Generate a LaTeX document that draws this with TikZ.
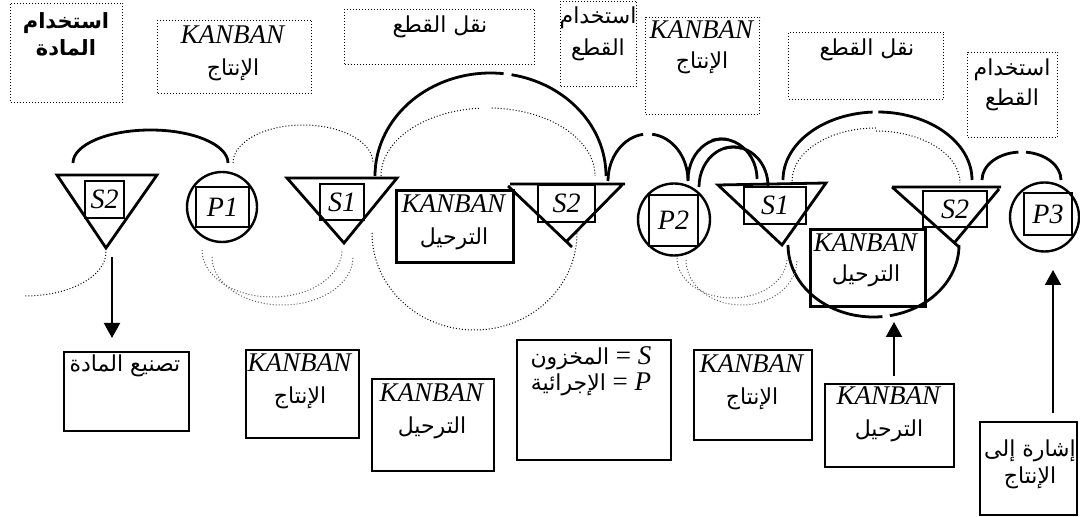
\documentclass[tikz,border=0pt]{standalone}
\usepackage{fontspec}
\setmainfont{Liberation Serif}
\newfontfamily\arabicfont[Script=Arabic]{DejaVu Sans}
\TeXXeTstate=1
\usetikzlibrary{arrows.meta}

% Arabic run, right to left
\newcommand{\artext}[2][11]{{\arabicfont\fontsize{#1}{16}\selectfont\beginR #2\endR}}
\newcommand{\kb}{\textit{KANBAN}}

\begin{document}
\begin{tikzpicture}[x=0.5pt, y=-0.5pt,
    font=\fontsize{13.5}{16}\selectfont,
    dotbox/.style={draw, densely dotted, line width=0.5pt, anchor=north west, inner sep=0},
    card/.style={draw, line width=1pt, anchor=north west, inner sep=0},
    midcard/.style={draw, line width=1.3pt, anchor=north west, inner sep=0},
    tag/.style={draw, line width=1.3pt, inner sep=0, font=\fontsize{14}{16}\selectfont\itshape},
    ring/.style={draw, circle, line width=1.2pt, inner sep=0},
    txt/.style={align=center, inner sep=0},
    bin/.style={line width=1.4pt},
    loop/.style={line width=1.4pt},
    trail/.style={densely dotted, line width=0.5pt},
    arr/.style={line width=1pt, -{Triangle[width=8pt,length=7.5pt]}}
]
\useasboundingbox (0,0) rectangle (1080,517);

% dotted boxes along the top
\node[dotbox, minimum width=56pt, minimum height=49.5pt] (matuse) at (10,3) {};
\node[dotbox, minimum width=77pt, minimum height=36.5pt] (prodtop1) at (157,20) {};
\node[dotbox, minimum width=95pt, minimum height=27.5pt] (move1) at (344,9) {};
\node[dotbox, minimum width=38pt, minimum height=42.5pt] (partuse1) at (560,1) {};
\node[dotbox, minimum width=57pt, minimum height=48.5pt] (prodtop2) at (645,17) {};
\node[dotbox, minimum width=77.5pt, minimum height=33.5pt] (move2) at (788,32) {};
\node[dotbox, minimum width=45pt, minimum height=42.5pt] (partuse2) at (967,52) {};

\node[txt, font=\fontsize{13.5}{13.5}\selectfont\bfseries] at (66,34) {\artext[10.5]{استخدام}\\\artext[10.5]{المادة}};
\node[txt] at (233,53) {\kb\\\artext{الإنتاج}};
\node[txt] at (440,27) {\artext{نقل القطع}};
\node[txt] at (598,34) {\artext{استخدام}\\\artext{القطع}};
\node[txt, font=\fontsize{13.5}{15}\selectfont] at (702,47) {\kb\\\artext{الإنتاج}};
\node[txt] at (867,50) {\artext{نقل القطع}};
\node[txt, font=\fontsize{13.5}{15}\selectfont] at (1012,85) {\artext{استخدام}\\\artext{القطع}};

% stock triangles
\draw[bin] (57,175) -- (157,175) -- (106,248) -- cycle;
\draw[bin] (287,178) -- (397,178) -- (344,243) -- cycle;
\draw[bin] (510,184) -- (625,184) (508,186) -- (572,247) (622,185) -- (566,242);
\draw[bin] (718,185) -- (826,183) -- (782,245) -- cycle;
\draw[bin] (892,187) -- (1001,187) (892,187) -- (959,247) (999,189) -- (955,242);

% process circles
\node[ring, minimum size=35pt] (p1ring) at (222,207) {};
\node[ring, minimum size=36pt] (p2ring) at (674,219.5) {};
\node[ring, minimum size=34.5pt] (p3ring) at (1044.5,217) {};

% labels in the symbols
\node[tag, minimum width=19.5pt, minimum height=18.5pt] (s2a) at (104.5,199.5) {S2};
\node[tag, minimum width=26.5pt, minimum height=20pt] (p1) at (222.5,207) {P1};
\node[tag, minimum width=22pt, minimum height=18pt] (s1a) at (342,202) {S1};
\node[tag, minimum width=28.5pt, minimum height=18.5pt] (s2b) at (566.5,203.5) {S2};
\node[tag, minimum width=24.5pt, minimum height=25.5pt] (p2) at (673.5,220.5) {P2};
\node[tag, minimum width=31pt, minimum height=18.5pt] (s1b) at (775,205.5) {S1};
\node[tag, minimum width=32pt, minimum height=18pt] (s2c) at (955,209) {S2};
\node[tag, minimum width=24pt, minimum height=21pt] (p3) at (1048,214) {P3};

% withdrawal cards in the loops
\node[midcard, minimum width=58.5pt, minimum height=36pt] (withmid1) at (395,189) {};
\node[txt] at (454,222) {\kb\\\artext{الترحيل}};
\node[midcard, minimum width=57.5pt, minimum height=38.5pt] (withmid2) at (809,228) {};
\node[txt, font=\fontsize{13.5}{15}\selectfont] at (866,260) {\kb\\\artext{الترحيل}};

% loops above the line
\foreach \cx/\cy/\rx/\ry/\sa/\ea in {150.5/163/77.5/33/180/360,
    490.5/176/115.5/103/180/276.5, 490.5/176/115.5/103/280.5/360,
    648/181/40/47/180/263, 648/181/40/47/276/360,
    722.5/180/34.5/41/180/280, 721/179/36/40/255/360,
    733/187/34/40/180/285, 733.5/186/34.5/39/255/360,
    877.5/180/94.5/68/180/267, 877.5/180/94.5/68/270.5/360,
    1021.5/180/39.5/28/180/265.5, 1021.5/180/39.5/28/276.5/360,
    873.5/245/85.5/72/180/84, 873.5/245/85.5/72/79/0}
  \draw[loop] (\cx,\cy) ++({\rx*cos(\sa)},{\ry*sin(\sa)}) arc[start angle=\sa, end angle=\ea, x radius=\rx, y radius=\ry];

% dotted return paths
\foreach \cx/\cy/\rx/\ry/\sa/\ea in {303/163/70/38/180/360,
    488/176/107/68/180/266, 488/176/107/68/272/360,
    876/181/84/53/180/270, 876/183/84/52/270/360,
    25/252/81/44/0/90, 474.5/233/102.5/97/180/0}
  \draw[trail] (\cx,\cy) ++({\rx*cos(\sa)},{\ry*sin(\sa)}) arc[start angle=\sa, end angle=\ea, x radius=\rx, y radius=\ry];
\foreach \cx/\cy/\rx/\ry/\sa/\ea in {272/250/70/47/180/0, 282.5/257/70.5/48/180/0,
    732/258/55/40/180/0, 741.5/260/55.5/45/180/0}
  \draw[trail, black!65] (\cx,\cy) ++({\rx*cos(\sa)},{\ry*sin(\sa)}) arc[start angle=\sa, end angle=\ea, x radius=\rx, y radius=\ry];

% cards along the bottom
\node[card, minimum width=62.5pt, minimum height=39.5pt] (matmake) at (63,351) {};
\node[txt] at (125,366) {\artext{تصنيع المادة}};
\node[card, minimum width=56.5pt, minimum height=44pt] (prodk1) at (245,349) {};
\node[txt] at (300,381) {\kb\\\artext{الإنتاج}};
\node[card, minimum width=61pt, minimum height=46pt] (withk1) at (371,378) {};
\node[txt] at (432,411) {\kb\\\artext{الترحيل}};
\node[card, minimum width=77pt, minimum height=60pt] (legend) at (516,339) {};
\node[txt, font=\fontsize{13.5}{13}\selectfont] at (591,371) {\artext{المخزون} = \textit{S}\\\artext{الإجرائية} = \textit{P}};
\node[card, minimum width=59pt, minimum height=45pt] (prodk2) at (693,349) {};
\node[txt] at (752,382) {\kb\\\artext{الإنتاج}};
\node[card, minimum width=64.5pt, minimum height=41.5pt] (withk2) at (824,383) {};
\node[txt] at (889,414) {\kb\\\artext{الترحيل}};
\node[card, minimum width=48.5pt, minimum height=46.5pt] (signal) at (979,421) {};
\node[txt, font=\fontsize{13.5}{13.5}\selectfont] at (1030,464) {\artext{إشارة إلى}\\\artext{الإنتاج}};

% arrows
\coordinate (s2foot) at (112,257);
\coordinate (loopgap) at (894,322);
\coordinate (p3foot) at (1053,270);
\draw[arr, shorten >=6.5pt] (s2foot) -- (s2foot |- matmake.north);
\draw[arr, shorten <=3.5pt] (withk2.north -| loopgap) -- (loopgap);
\draw[arr, shorten <=4pt] (signal.north -| p3foot) -- (p3foot);
\end{tikzpicture}
\end{document}
